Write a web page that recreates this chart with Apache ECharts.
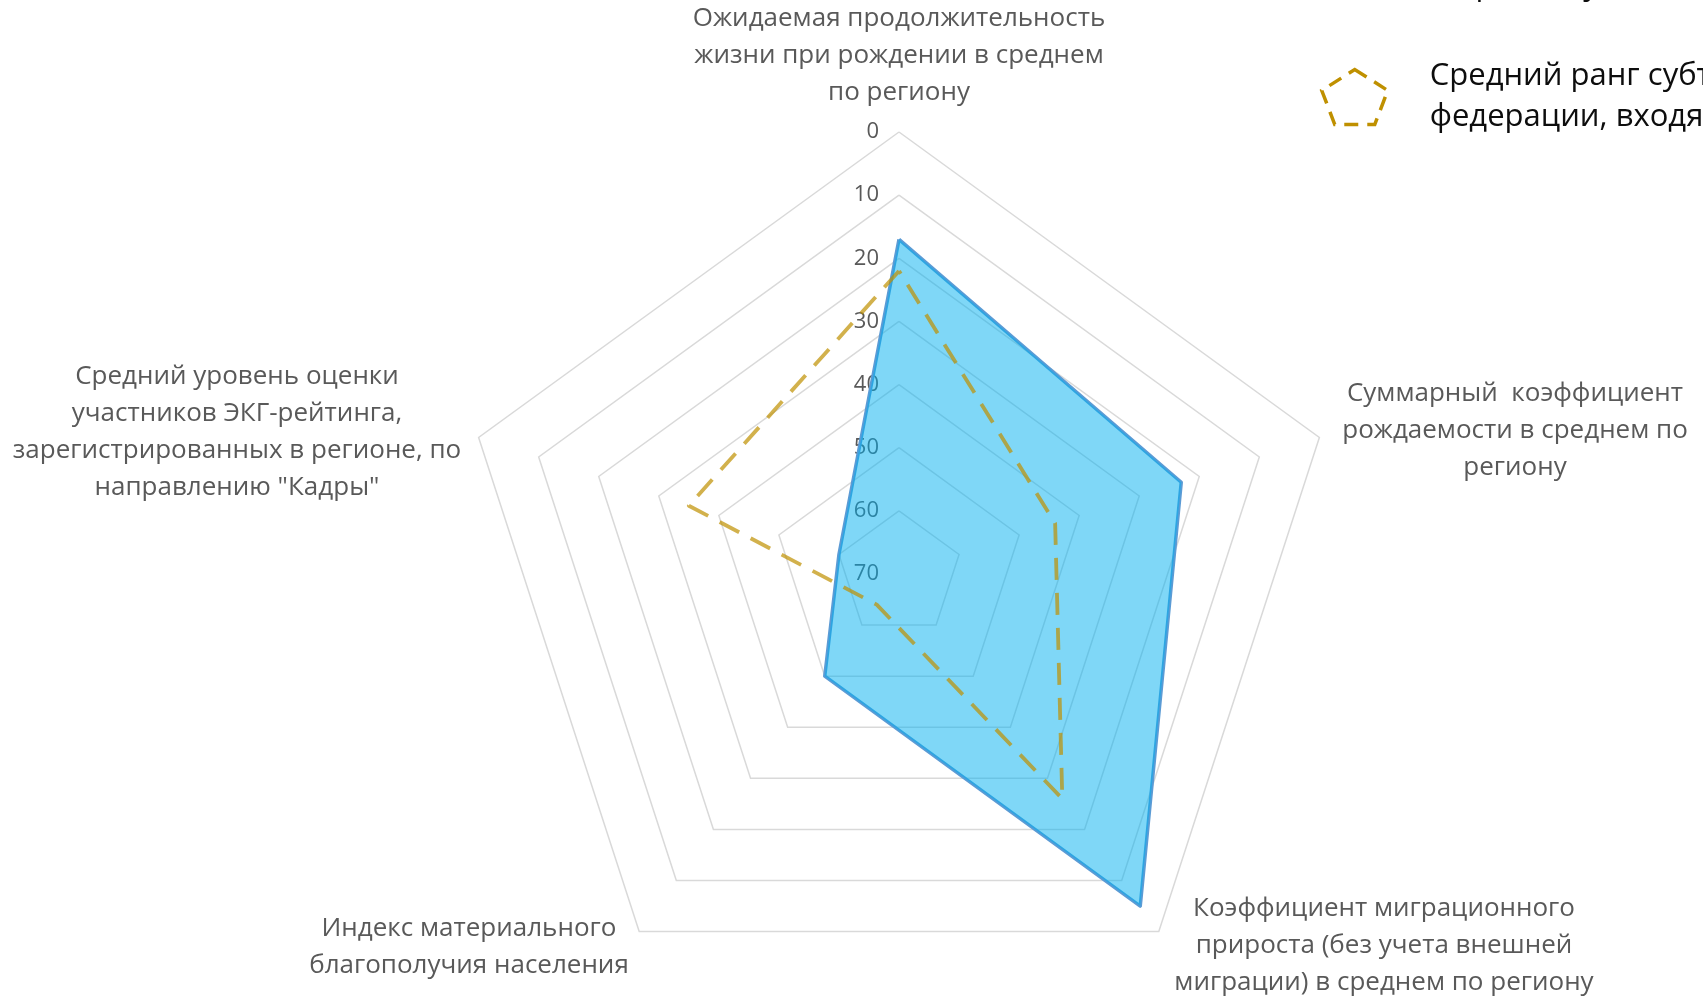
<!DOCTYPE html>
<html><head><meta charset="utf-8">
<script src="https://cdn.jsdelivr.net/npm/echarts@6/dist/echarts.min.js"></script>
<style>html,body{margin:0;padding:0;background:#fff;}#c{width:1703px;height:1000px;}</style>
</head><body><div id="c"></div>
<script>
// ---- data ----
const indicatorNames = [
  'Ожидаемая продолжительность\nжизни при рождении в среднем\nпо региону',
  'Средний уровень оценки\nучастников ЭКГ-рейтинга,\nзарегистрированных в регионе, по\nнаправлению "Кадры"',
  'Индекс материального\nблагополучия населения',
  'Коэффициент миграционного\nприроста (без учета внешней\nмиграции) в среднем по региону',
  'Суммарный  коэффициент\nрождаемости в среднем по\nрегиону'
];
const seriesNames = [
  'Ранг субъекта Российской Федерации\nпо региону',
  'Средний ранг субъектов Российской\nфедерации, входящих в федеральный округ'
];
const regionRank = [17, 60, 50, 5, 23];
const avgRank = [22, 35, 64, 26, 44];
const rankWorst = 70;   // centre of the radar
const rankStep = 10;

// ---- layout ----
const FONT = '"Open Sans", sans-serif';
const nameLayout = [
  [899, 56], [237, 432], [469, 947], [1384, 946], [1515, 431]
];
const pentagon = 'path://M33,0 L66,21 L53,55 L13,55 L0,21 Z';

const chart = echarts.init(document.getElementById('c'), null, {renderer: 'canvas'});
chart.setOption({
  backgroundColor: '#fff',
  animation: false,
  radar: {
    center: [899, 574],
    radius: 442,
    startAngle: 90,
    shape: 'polygon',
    splitNumber: rankWorst / rankStep,
    indicator: indicatorNames.map((n, i) => {
      const o = {name: n, min: -rankWorst, max: 0};
      if (i === 0) o.axisLabel = {show: true};
      return o;
    }),
    axisName: {show: false},
    axisLine: {show: false},
    axisTick: {show: false},
    axisLabel: {
      show: false, color: '#595959', fontSize: 22, fontFamily: FONT, margin: 20,
      formatter: v => String(Math.abs(v))
    },
    splitLine: {lineStyle: {color: '#d9d9d9', width: 1.5}},
    splitArea: {show: false}
  },
  legend: [
    {
      data: [{name: seriesNames[0], icon: pentagon,
        itemStyle: {color: 'rgba(0,176,240,0.5)', borderColor: '#5B9BD5', borderWidth: 3}}],
      orient: 'vertical', left: 1315, top: -80, itemWidth: 140, itemHeight: 55,
      selectedMode: false,
      textStyle: {fontSize: 31, lineHeight: 41, color: '#0d0d0d', fontFamily: FONT}
    },
    {
      data: [{name: seriesNames[1], icon: pentagon,
        itemStyle: {color: 'rgba(0,0,0,0)', borderColor: '#BF9000', borderWidth: 3.5, borderType: [14, 9]}}],
      orient: 'vertical', left: 1315, top: 51, itemWidth: 140, itemHeight: 55,
      selectedMode: false,
      textStyle: {fontSize: 31, lineHeight: 41, color: '#0d0d0d', fontFamily: FONT}
    }
  ],
  graphic: indicatorNames.map((n, i) => ({
    type: 'text', x: nameLayout[i][0], y: nameLayout[i][1], silent: true,
    style: {text: n, fill: '#595959', font: '26px ' + FONT, lineHeight: 37,
      textAlign: 'center', textVerticalAlign: 'middle', align: 'center', verticalAlign: 'middle'}
  })),
  series: [
    {
      type: 'radar', name: seriesNames[0], symbol: 'none', z: 2,
      data: [{name: seriesNames[0], value: regionRank.map(v => -v),
        lineStyle: {color: '#5B9BD5', width: 3.5},
        areaStyle: {color: '#00B0F0', opacity: 0.5},
        itemStyle: {color: '#5B9BD5'}}]
    },
    {
      type: 'radar', name: seriesNames[1], symbol: 'none', z: 3,
      data: [{name: seriesNames[1], value: avgRank.map(v => -v),
        lineStyle: {color: '#BF9000', width: 3.8, type: [22, 13], opacity: 0.7},
        itemStyle: {color: '#BF9000'}}]
    }
  ]
});
</script></body></html>
